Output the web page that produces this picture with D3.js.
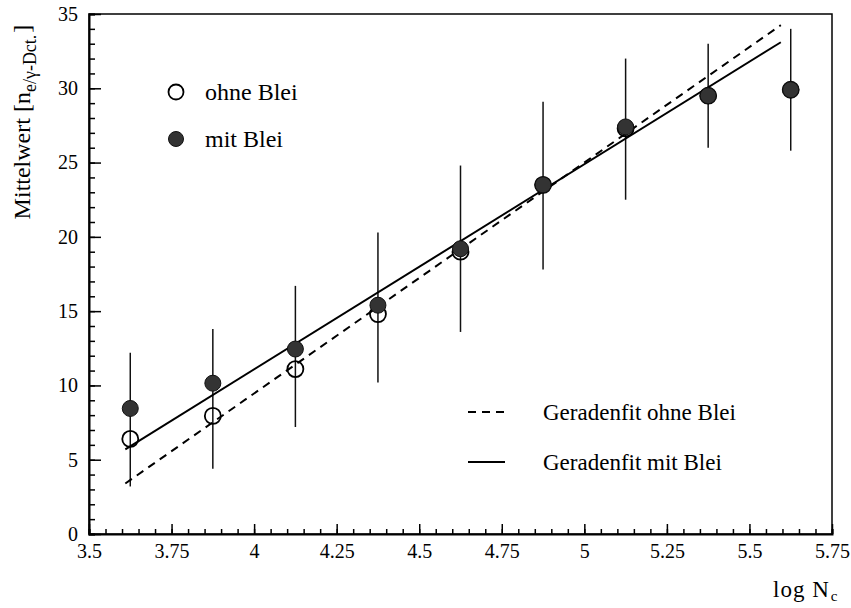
<!DOCTYPE html>
<html><head><meta charset="utf-8">
<script src="https://cdn.jsdelivr.net/npm/d3@7"></script>
<style>body{margin:0;background:#fff}svg{display:block}text{font-family:"Liberation Serif","Times New Roman",serif;fill:#000}</style>
</head><body>
<svg id="c" width="851" height="608"></svg>
<script>
// Data
const logNc      = [3.625, 3.875, 4.125, 4.375, 4.625, 4.875, 5.125, 5.375, 5.625];
const ohneBlei   = [6.4, 7.95, 11.1, 14.8, 19.0, 23.5, 27.3, 29.5, 29.9];
const mitBlei    = [8.45, 10.15, 12.45, 15.4, 19.2, 23.5, 27.4, 29.5, 29.9];
const errTop     = [12.2, 13.8, 16.7, 20.3, 24.8, 29.1, 32.0, 33.0, 34.0];
const errBottom  = [3.2, 4.4, 7.2, 10.2, 13.6, 17.8, 22.5, 26.0, 25.8];
const fitOhneX   = [3.61, 5.595];
const fitOhneY   = [3.4, 34.25];
const fitMitX    = [3.61, 5.595];
const fitMitY    = [5.7, 33.1];
const xTicks     = [3.5, 3.75, 4, 4.25, 4.5, 4.75, 5, 5.25, 5.5, 5.75];
const xTickLabels= ["3.5","3.75","4","4.25","4.5","4.75","5","5.25","5.5","5.75"];
const yTicks     = [0, 5, 10, 15, 20, 25, 30, 35];

const svg = d3.select("#c");
const L = 89, R = 832, T = 14, B = 534;
const x = d3.scaleLinear().domain([3.5, 5.75]).range([L, R]);
const y = d3.scaleLinear().domain([0, 35]).range([B, T]);

// frame
svg.append("rect").attr("x", L).attr("y", T).attr("width", R - L).attr("height", B - T)
  .attr("fill", "none").attr("stroke", "#000").attr("stroke-width", 1.5);

// x axis
const xMinor = d3.range(3.5, 5.7501, 0.05);
const xAx = svg.append("g").attr("transform", `translate(0,${B})`)
  .call(d3.axisBottom(x).tickValues(xMinor).tickSize(-5).tickFormat(""));
xAx.select(".domain").attr("stroke-width", 2);
xAx.selectAll(".tick line").attr("stroke-width", 1.5);
const xMaj = svg.append("g").attr("transform", `translate(0,${B})`)
  .call(d3.axisBottom(x).tickValues(xTicks).tickSize(-10).tickPadding(10)
    .tickFormat((d, i) => xTickLabels[i]));
xMaj.select(".domain").remove();
xMaj.selectAll(".tick line").attr("stroke-width", 1.5);
xMaj.selectAll("text").attr("font-size", 20).style("font-family", '"Liberation Serif",serif');

// y axis
const yMinor = d3.range(0, 35.001, 1);
const yAx = svg.append("g").attr("transform", `translate(${L},0)`)
  .call(d3.axisLeft(y).tickValues(yMinor).tickSize(-6).tickFormat(""));
yAx.select(".domain").attr("stroke-width", 2);
yAx.selectAll(".tick line").attr("stroke-width", 1.5);
const yMaj = svg.append("g").attr("transform", `translate(${L},0)`)
  .call(d3.axisLeft(y).tickValues(yTicks).tickSize(-12).tickPadding(11).tickFormat(d3.format("d")));
yMaj.select(".domain").remove();
yMaj.selectAll(".tick line").attr("stroke-width", 1.5);
yMaj.selectAll("text").attr("font-size", 20).style("font-family", '"Liberation Serif",serif');

// axis labels
const yl = svg.append("text").attr("transform", "translate(30,122) rotate(-90)")
  .attr("text-anchor", "middle").attr("font-size", 24);
yl.append("tspan").text("Mittelwert [n");
yl.append("tspan").attr("font-size", 18).attr("dy", 6).text("e/γ-Dct.");
yl.append("tspan").attr("dy", -6).attr("dx", 2).text("]");

const xl = svg.append("text").attr("x", 773).attr("y", 597).attr("font-size", 23)
  .attr("letter-spacing", 1);
xl.append("tspan").text("log N");
xl.append("tspan").attr("font-size", 15).attr("dy", 4).attr("dx", 1).text("c");

// error bars
svg.append("g").selectAll("line").data(logNc).join("line")
  .attr("x1", d => x(d)).attr("x2", d => x(d))
  .attr("y1", (d, i) => y(errTop[i])).attr("y2", (d, i) => y(errBottom[i]))
  .attr("stroke", "#111").attr("stroke-width", 1.5);

// fit lines
const line = d3.line().x(d => x(d[0])).y(d => y(d[1]));
svg.append("path").attr("d", line(d3.zip(fitOhneX, fitOhneY)))
  .attr("fill", "none").attr("stroke", "#000").attr("stroke-width", 2).attr("stroke-dasharray", "8,6");
svg.append("path").attr("d", line(d3.zip(fitMitX, fitMitY)))
  .attr("fill", "none").attr("stroke", "#000").attr("stroke-width", 2);

// points
svg.append("g").selectAll("circle").data(logNc).join("circle")
  .attr("cx", d => x(d)).attr("cy", (d, i) => y(ohneBlei[i])).attr("r", 8)
  .attr("fill", "none").attr("stroke", "#000").attr("stroke-width", 1.8);
svg.append("g").selectAll("circle").data(logNc).join("circle")
  .attr("cx", d => x(d)).attr("cy", (d, i) => y(mitBlei[i])).attr("r", 8)
  .attr("fill", "#333").attr("stroke", "#111").attr("stroke-width", 1);

// legend top-left
svg.append("circle").attr("cx", 176).attr("cy", 92).attr("r", 7.5)
  .attr("fill", "none").attr("stroke", "#000").attr("stroke-width", 1.8);
svg.append("text").attr("x", 205).attr("y", 100).attr("font-size", 24).text("ohne Blei");
svg.append("circle").attr("cx", 176).attr("cy", 139).attr("r", 7.5)
  .attr("fill", "#333").attr("stroke", "#111").attr("stroke-width", 1);
svg.append("text").attr("x", 205).attr("y", 147).attr("font-size", 24).text("mit Blei");

// legend bottom-right
svg.append("line").attr("x1", 468).attr("x2", 505).attr("y1", 412).attr("y2", 412)
  .attr("stroke", "#000").attr("stroke-width", 2).attr("stroke-dasharray", "8,6");
svg.append("text").attr("x", 543).attr("y", 420).attr("font-size", 23).text("Geradenfit ohne Blei");
svg.append("line").attr("x1", 468).attr("x2", 505).attr("y1", 462).attr("y2", 462)
  .attr("stroke", "#000").attr("stroke-width", 2);
svg.append("text").attr("x", 543).attr("y", 470).attr("font-size", 23).text("Geradenfit mit Blei");
</script>
</body></html>
